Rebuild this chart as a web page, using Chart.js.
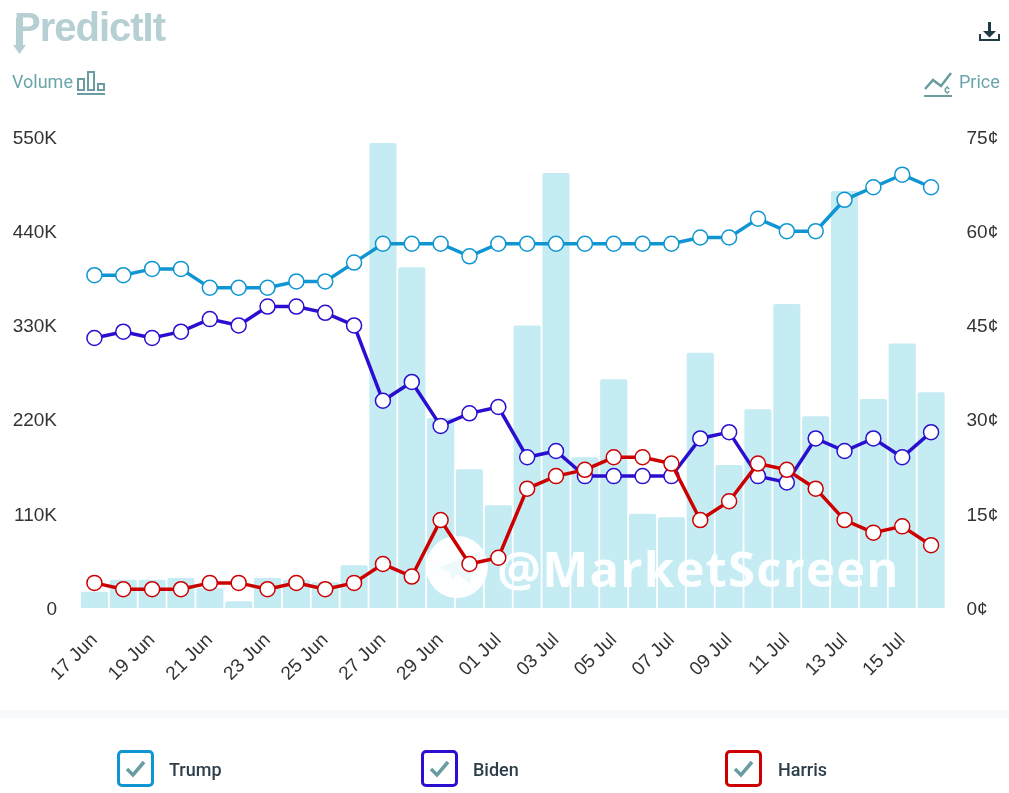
<!DOCTYPE html>
<html>
<head>
<meta charset="utf-8">
<title>PredictIt</title>
<script src="https://cdn.jsdelivr.net/npm/chart.js@4"></script>
<style>
body { margin: 0; background: #fff; font-family: Roboto, sans-serif; overflow: hidden; }
#wrap { position: relative; width: 1009px; height: 793px; }
#chart { position: absolute; left: 0; top: 0; }
.abs { position: absolute; }
.logo { left: 14px; top: 5px; font: bold 40px "Liberation Sans", sans-serif; letter-spacing: -1px; color: #b5cfd3; }
.axisname { top: 71px; font-size: 18px; color: #6ca4ac; }
.band { left: 0; top: 710px; width: 1009px; height: 8px; background: #f8f9fa; }
.box { top: 750px; width: 31px; height: 31px; border: 3px solid; border-radius: 5px; }
.name { top: 759px; font-size: 18px; font-weight: 500; color: #2c3e4a; }
</style>
</head>
<body>
<div id="wrap">
	<canvas id="chart" width="1009" height="793"></canvas>

	<div class="abs logo">PredictIt</div>
	<svg class="abs" style="left:12px;top:14px" width="16" height="40"><path d="M4 4h7v27h3l-6.500 9L1 31h3z" fill="#b5cfd3"/></svg>

	<div class="abs axisname" style="left:12px">Volume</div>
	<svg class="abs" style="left:76px;top:70px" width="30" height="26" fill="none" stroke="#6a9ca2" stroke-width="2">
		<rect x="2" y="9" width="6" height="11"/><rect x="12" y="2" width="6" height="18"/><rect x="22" y="14" width="6" height="6"/>
		<path d="M1 24h28"/>
	</svg>

	<svg class="abs" style="left:923px;top:68px" width="32" height="30" fill="none" stroke="#6a9ca2" stroke-width="2.500">
		<path d="M2 21l8-9 8 6 10-13"/><path d="M1 28h28" stroke-width="2"/>
		<text x="21" y="25" font-size="11" font-weight="bold" fill="#6a9ca2" stroke="none">¢</text>
	</svg>
	<div class="abs axisname" style="left:959px">Price</div>

	<svg class="abs" style="left:978px;top:21px" width="24" height="22" fill="#1f3b44">
		<path d="M10 1h3v9h5l-6.500 6.500L5 10h5z"/><path d="M1 13h2v5h17v-5h2v7H1z"/>
	</svg>

	<div class="abs band"></div>

	<div class="abs box" style="left:117px;border-color:#0f96d2"></div>
	<svg class="abs" style="left:125px;top:759px" width="22" height="20" fill="none" stroke="#6a9ca2" stroke-width="3.500"><path d="M2 10l6 6L19 3"/></svg>
	<div class="abs name" style="left:169px">Trump</div>

	<div class="abs box" style="left:421px;border-color:#2a0fd0"></div>
	<svg class="abs" style="left:429px;top:759px" width="22" height="20" fill="none" stroke="#6a9ca2" stroke-width="3.500"><path d="M2 10l6 6L19 3"/></svg>
	<div class="abs name" style="left:473px">Biden</div>

	<div class="abs box" style="left:725px;border-color:#cc0000"></div>
	<svg class="abs" style="left:733px;top:759px" width="22" height="20" fill="none" stroke="#6a9ca2" stroke-width="3.500"><path d="M2 10l6 6L19 3"/></svg>
	<div class="abs name" style="left:778px">Harris</div>
</div>

<script>
var dates = ["17 Jun","18 Jun","19 Jun","20 Jun","21 Jun","22 Jun","23 Jun","24 Jun","25 Jun","26 Jun","27 Jun","28 Jun","29 Jun","30 Jun",
	"01 Jul","02 Jul","03 Jul","04 Jul","05 Jul","06 Jul","07 Jul","08 Jul","09 Jul","10 Jul","11 Jul","12 Jul","13 Jul","14 Jul","15 Jul","16 Jul"];

var volume = [19000,33000,33000,35000,23000,8000,35000,33000,30000,50000,543000,398000,222000,162000,
	120000,330000,508000,176000,267000,110000,106000,298000,167000,232000,355000,224000,487000,244000,309000,252000];

var trump = [53,53,54,54,51,51,51,52,52,55,58,58,58,56,58,58,58,58,58,58,58,59,59,62,60,60,65,67,69,67];
var biden = [43,44,43,44,46,45,48,48,47,45,33,36,29,31,32,24,25,21,21,21,21,27,28,21,20,27,25,27,24,28];
var harris = [4,3,3,3,4,4,3,4,3,4,7,5,14,7,8,19,21,22,24,24,23,14,17,23,22,19,14,12,13,10];

function lineSet(name, values, color, order) {
	return {
		type: "line",
		label: name,
		data: values,
		yAxisID: "price",
		borderColor: color,
		backgroundColor: "#fff",
		borderWidth: 3.5,
		pointBackgroundColor: "#fff",
		pointBorderColor: color,
		pointBorderWidth: 1.5,
		pointRadius: 7.5,
		lineTension: 0,
		order: order
	};
}

// watermark sits on top of the bars but under the lines
var watermark = {
	id: "watermark",
	afterDatasetDraw: function(chart, args) {
		if (args.index !== 0) return;
		var c = chart.ctx;
		c.save();
		c.fillStyle = "rgba(255,255,255,0.95)";
		c.beginPath();
		c.arc(457, 567, 31, 0, Math.PI * 2);
		c.fill();
		c.fillStyle = "#eef9fb";
		c.beginPath();
		c.moveTo(438, 568);
		c.lineTo(478, 552);
		c.lineTo(470, 584);
		c.lineTo(458, 574);
		c.lineTo(452, 580);
		c.lineTo(450, 572);
		c.closePath();
		c.fill();
		c.fillStyle = "rgba(255,255,255,0.95)";
		c.font = "bold 49px 'Open Sans', sans-serif";
		c.letterSpacing = "1.2px";
		c.textBaseline = "alphabetic";
		c.fillText("@MarketScreen", 497, 587);
		c.restore();
	}
};

// side tick labels sit a little under their value in the original
var nudgeTicks = {
	id: "nudgeTicks",
	beforeDraw: function(chart) {
		[chart.scales.volume, chart.scales.price].forEach(function(scale) {
			scale.getLabelItems().forEach(function(item) {
				item.options.translation[1] += 1.5;
			});
		});
	}
};

var ctx = document.getElementById("chart");

var chart = new Chart(ctx, {
	data: {
		labels: dates,
		datasets: [
			{
				type: "bar",
				label: "Volume",
				data: volume,
				yAxisID: "volume",
				backgroundColor: "#c5ebf3",
				barPercentage: 0.94,
				categoryPercentage: 1,
				borderRadius: 2,
				order: 3
			},
			lineSet("Trump", trump, "#0f96d2", 2),
			lineSet("Biden", biden, "#2a0fd0", 1),
			lineSet("Harris", harris, "#cc0000", 0)
		]
	},
	options: {
		responsive: false,
		animation: false,
		devicePixelRatio: 1,
		layout: { padding: { top: 137, left: 0, right: 0, bottom: 0 } },
		plugins: {
			legend: { display: false },
			title: { display: false },
			tooltip: { enabled: false }
		},
		scales: {
			x: {
				grid: { display: false, drawTicks: false },
				border: { display: false },
				afterFit: function(scale) { scale.height = 185; },
				ticks: {
					autoSkip: false,
					maxRotation: 45,
					minRotation: 45,
					padding: 21,
					color: "#333",
					font: { family: "Liberation Sans", size: 19 },
					callback: function(value, index) {
						return index % 2 ? "" : dates[index];
					}
				}
			},
			volume: {
				position: "left",
				min: 0,
				max: 550000,
				grid: { display: false, drawTicks: false },
				border: { display: false },
				afterFit: function(scale) { scale.width = 80; },
				ticks: {
					stepSize: 110000,
					padding: 23,
					color: "#333",
					font: { family: "Liberation Sans", size: 19 },
					callback: function(value) {
						return value === 0 ? "0" : (value / 1000) + "K";
					}
				}
			},
			price: {
				position: "right",
				min: 0,
				max: 75,
				grid: { display: false, drawTicks: false },
				border: { display: false },
				afterFit: function(scale) { scale.width = 63.5; },
				ticks: {
					stepSize: 15,
					padding: 21,
					color: "#333",
					font: { family: "Liberation Sans", size: 19 },
					callback: function(value) {
						return value + "¢";
					}
				}
			}
		}
	},
	plugins: [watermark, nudgeTicks]
});
</script>
</body>
</html>
